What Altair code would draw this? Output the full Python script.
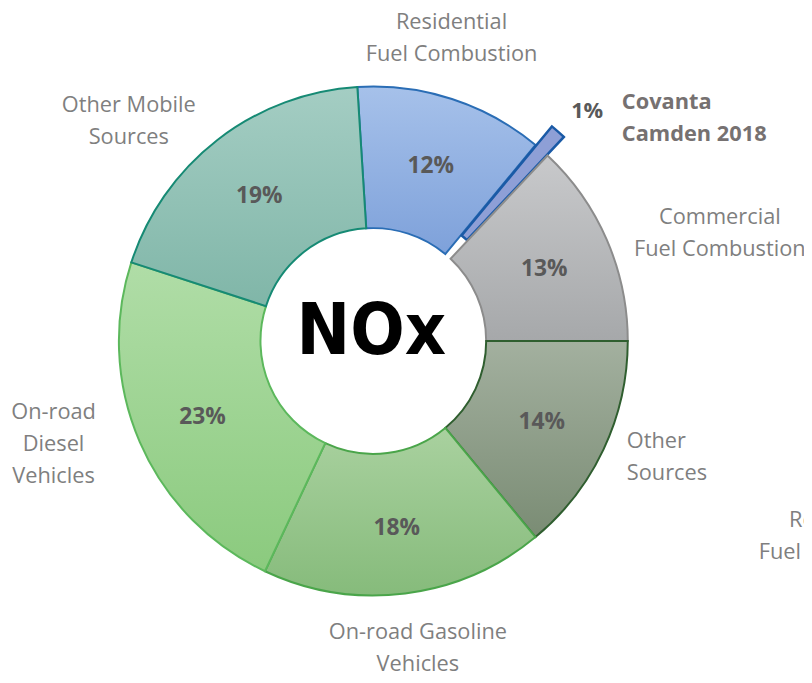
import math
import altair as alt
import pandas as pd

# ---- data ----
categories = [
    "Residential Fuel Combustion",
    "Covanta Camden 2018",
    "Commercial Fuel Combustion",
    "Other Sources",
    "On-road Gasoline Vehicles",
    "On-road Diesel Vehicles",
    "Other Mobile Sources",
]
shares = [12, 1, 13, 14, 18, 23, 19]
pct_labels = ["12%", "1%", "13%", "14%", "18%", "23%", "19%"]

# ---- styles ----
grad_top = ["#a6c1ea", "#8e9fd6", "#c8c9cb", "#a3b09f", "#a9d19f", "#b0dda7", "#a4cdc3"]
grad_bot = ["#7ea1da", "#8e9fd6", "#a6a8aa", "#7a8c74", "#86bb7b", "#8bca7e", "#80b6a8"]
strokes = ["#2a6db5", "#1a5aa6", "#8c8c8c", "#2f5e2f", "#4aa54a", "#5cb85c", "#168a74"]

CX, CY = 369, 333
R_OUT, R_IN = 257, 114
START = -0.01 * 2 * math.pi
EXPLODE = 25

df = pd.DataFrame({"cat": categories, "value": shares, "label": pct_labels,
                   "order": list(range(len(categories)))})

theta_scale = alt.Scale(domain=[0, 100], range=[START, START + 2 * math.pi])

base = (
    alt.Chart(df)
    .transform_window(end="sum(value)", frame=[None, 0], sort=[alt.SortField("order")])
    .transform_calculate(start="datum.end - datum.value", mid="datum.end - datum.value/2")
)

layers = []
cum = 0
for i, c in enumerate(categories):
    mid_frac = (cum + shares[i] / 2) / 100.0
    cum += shares[i]
    xo, yo = 0, 0
    sw = 2
    if c.startswith("Covanta"):
        ang = START + mid_frac * 2 * math.pi
        xo = EXPLODE * math.sin(ang)
        yo = -EXPLODE * math.cos(ang)
        sw = 2.5
    grad = alt.LinearGradient(
        gradient="linear",
        stops=[alt.GradientStop(color=grad_top[i], offset=0),
               alt.GradientStop(color=grad_bot[i], offset=1)],
        x1=0, x2=0, y1=0, y2=1,
    )
    layers.append(
        base.transform_filter(alt.datum.cat == c)
        .mark_arc(radius=R_OUT, radius2=R_IN, fill=grad, stroke=strokes[i],
                  strokeWidth=sw, xOffset=xo, yOffset=yo)
        .encode(
            theta=alt.Theta("start:Q", scale=theta_scale),
            theta2="end:Q",
            x=alt.value(CX),
            y=alt.value(CY),
        )
    )

pct = (
    base.transform_filter(alt.datum.cat != "Covanta Camden 2018")
    .mark_text(radius=188, font="Open Sans", fontSize=23, fontWeight="bold",
               color="#595959", align="center", baseline="middle")
    .encode(theta=alt.Theta("mid:Q", scale=theta_scale), text="label:N",
            x=alt.value(CX), y=alt.value(CY + 2))
)
layers.append(pct)

def txt(lines, x, y, align="center", bold=False, color="#7f7f7f", size=22, clip=False):
    return (
        alt.Chart(pd.DataFrame({"t": [0]}))
        .mark_text(text=lines, font="Open Sans", fontSize=size,
                   fontWeight="bold" if bold else "normal", color=color,
                   align=align, baseline="middle", lineHeight=32, clip=clip)
        .encode(x=alt.value(x), y=alt.value(y))
    )

layers += [
    txt(["Residential", "Fuel Combustion"], 448, 11),
    txt(["Commercial", "Fuel Combustion"], 719, 208),
    txt(["Other", "Sources"], 625, 434, align="left"),
    txt(["On-road Gasoline", "Vehicles"], 414, 627),
    txt(["On-road", "Diesel", "Vehicles"], 46, 405),
    txt(["Other Mobile", "Sources"], 122, 95),
    txt(["1%"], 585, 101, bold=True, color="#595959"),
    txt(["Covanta", "Camden 2018"], 620, 92, align="left", bold=True, color="#767171"),
    txt(["Residential", "Fuel Combustion"], 845, 514, clip=True),
]

nox = (
    alt.Chart(pd.DataFrame({"t": [0]}))
    .mark_text(text="NOx", font="DejaVu Sans Condensed, Roboto, sans-serif", fontSize=72,
               fontWeight="bold", color="#000000", align="center", baseline="middle")
    .encode(x=alt.value(367), y=alt.value(324))
)
layers.append(nox)

chart = (
    alt.layer(*layers)
    .properties(width=804, height=667, padding=0, autosize=alt.AutoSizeParams(type="none"))
    .configure_view(stroke=None)
)

chart.save("out.html", embed_options={"renderer": "svg", "actions": False})
